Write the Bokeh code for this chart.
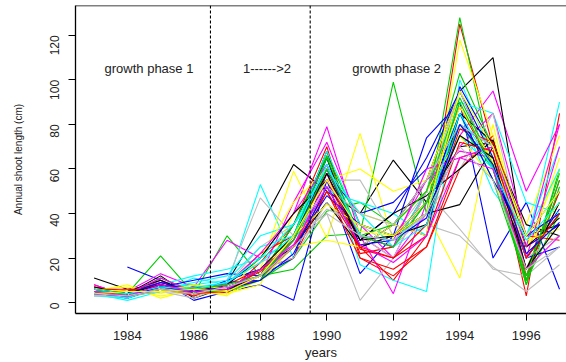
import math
from bokeh.plotting import figure
from bokeh.models import Span, Label, FixedTicker, LinearAxis
from bokeh.embed import file_html
from bokeh.resources import INLINE

nan = float("nan")

years = list(range(1983, 1998))
x_ticks = [1984, 1986, 1988, 1990, 1992, 1994, 1996]
y_ticks = [0, 20, 40, 60, 80, 100, 120]
palette = ["#000000", "#FF0000", "#00CD00", "#0000FF", "#00FFFF", "#FF00FF", "#FFFF00", "#BEBEBE"]
phase_breaks = [1986.5, 1989.5]

s00 = [11, 6, 8, 3, 9, 34, 62, 50, 40, 64, 45, 70, 72, 30, 35]
s01 = [8, 3, 6, 5, 7, 12, 25, 55, 25, 10, 30, 125, 70, 3, 85]
s02 = [6, 4, 21, 4, 30, 12, 15, 30, 31, 99, 40, 128, 60, 8, 60]
s03 = [nan, 16, 10, 1, 5, 8, 1, 55, 13, 30, 74, 90, 20, 45, 6]
s04 = [4, 1, 5, 11, 8, 53, 20, 65, 17, 10, 5, 100, 65, 25, 90]
s05 = [7, 5, 13, 7, 28, 20, 40, 79, 30, 4, 45, 75, 95, 50, 80]
s06 = [5, 8, 2, 6, 3, 15, 59, 29, 76, 28, 40, 11, 80, 20, 65]
s07 = [4, 2, 6, 3, 10, 47, 30, 40, 1, 20, 35, 30, 16, 5, 17]
s08 = [6, 4, 12, 2, 7, 10, 30, 68, 25, 35, 55, 95, 110, 20, 40]
s09 = [7, 5, 6, 8, 4, 18, 35, 70, 20, 12, 25, 60, 75, 10, 55]
s10 = [5, 2, 11, 5, 9, 10, 20, 41, 45, 35, 50, 103, 70, 15, 50]
s11 = [6, 2, 7, 10, 13, 12, 20, 58, 40, 45, 60, 95, 60, 20, 42]
s12 = [3, 2, 8, 12, 15, 20, 28, 50, 45, 40, 30, 85, 50, 30, 70]
s13 = [8, 3, 10, 4, 6, 12, 45, 72, 35, 20, 50, 80, 70, 25, 35]
s14 = [4, 6, 3, 5, 4, 8, 40, 55, 60, 50, 55, 95, 65, 35, 75]
s15 = [3, 4, 5, 2, 8, 25, 35, 55, 55, 30, 50, 33, 15, 12, 25]
s16 = [5, 4, 9, 6, 5, 15, 25, 45, 25, 30, 40, 44, 70, 35, 30]
s17 = [6, 4, 7, 3, 8, 22, 30, 62, 22, 25, 50, 88, 60, 15, 45]
s18 = [4, 3, 5, 7, 6, 10, 25, 60, 30, 25, 45, 85, 55, 10, 58]
s19 = [5, 3, 8, 4, 10, 15, 30, 65, 25, 35, 30, 97, 70, 25, 35]
s20 = [6, 3, 6, 9, 12, 30, 35, 55, 30, 25, 50, 90, 85, 45, 40]
s21 = [5, 2, 9, 6, 7, 10, 28, 60, 30, 20, 40, 70, 85, 30, 50]
s22 = [6, 7, 4, 8, 5, 20, 45, 60, 40, 35, 30, 118, 75, 25, 60]
s23 = [4, 3, 7, 5, 9, 18, 25, 42, 35, 25, 40, 60, 85, 20, 30]
s24 = [5, 5, 10, 4, 6, 12, 35, 65, 25, 30, 35, 85, 72, 15, 45]
s25 = [6, 6, 5, 7, 8, 15, 20, 50, 20, 15, 25, 65, 70, 12, 50]
s26 = [5, 3, 6, 5, 7, 12, 35, 66, 35, 30, 45, 80, 60, 10, 40]
s27 = [4, 4, 8, 6, 9, 10, 30, 60, 28, 40, 65, 95, 65, 20, 25]
s28 = [5, 2, 7, 8, 10, 25, 30, 68, 35, 30, 40, 75, 60, 30, 60]
s29 = [6, 4, 11, 5, 8, 22, 40, 62, 30, 28, 55, 68, 65, 20, 70]
s30 = [5, 5, 6, 4, 4, 10, 25, 28, 25, 35, 50, 75, 55, 25, 45]
s31 = [3, 3, 5, 4, 6, 15, 20, 45, 30, 20, 50, 95, 60, 30, 40]
s32 = [7, 4, 7, 5, 8, 20, 40, 55, 28, 40, 48, 60, 73, 25, 38]
s33 = [5, 5, 8, 6, 6, 14, 28, 58, 24, 20, 35, 78, 72, 30, 28]
s34 = [4, 3, 6, 5, 5, 10, 30, 65, 30, 35, 50, 92, 62, 8, 52]
s35 = [5, 4, 9, 5, 7, 12, 25, 48, 35, 30, 45, 85, 55, 30, 40]
s36 = [6, 3, 6, 7, 9, 20, 35, 60, 40, 25, 35, 80, 70, 30, 50]
s37 = [4, 3, 8, 4, 7, 12, 25, 55, 30, 25, 60, 65, 70, 25, 80]
s38 = [6, 5, 5, 8, 6, 15, 30, 44, 35, 30, 45, 88, 63, 28, 33]
s39 = [5, 4, 6, 6, 8, 12, 30, 52, 40, 35, 55, 80, 70, 20, 30]
s40 = [6, 4, 8, 5, 6, 15, 30, 58, 28, 30, 40, 75, 65, 15, 35]
s41 = [5, 3, 6, 4, 5, 12, 25, 50, 25, 20, 30, 72, 68, 20, 40]
s42 = [5, 4, 7, 6, 8, 12, 28, 60, 30, 25, 45, 90, 60, 12, 55]
s43 = [4, 3, 7, 5, 6, 10, 22, 52, 26, 28, 38, 80, 62, 22, 36]
s44 = [6, 4, 7, 6, 9, 18, 30, 62, 30, 28, 40, 85, 60, 28, 45]
s45 = [5, 3, 8, 5, 6, 15, 26, 52, 26, 18, 30, 65, 60, 15, 30]
s46 = [4, 5, 5, 6, 5, 12, 30, 55, 32, 30, 40, 95, 70, 30, 50]
s47 = [4, 3, 6, 4, 7, 12, 25, 40, 30, 28, 40, 70, 55, 15, 25]

series = [s00, s01, s02, s03, s04, s05, s06, s07, s08, s09, s10, s11,
          s12, s13, s14, s15, s16, s17, s18, s19, s20, s21, s22, s23,
          s24, s25, s26, s27, s28, s29, s30, s31, s32, s33, s34, s35,
          s36, s37, s38, s39, s40, s41, s42, s43, s44, s45, s46, s47]

FONT = "Liberation Sans"

p = figure(width=566, height=362, output_backend="svg", toolbar_location=None,
           x_range=(1982.44, 1997.21), y_range=(-4.9, 133.4),
           min_border_left=75, min_border_right=0, min_border_top=5,
           min_border_bottom=0)
p.background_fill_color = "white"
p.border_fill_color = "white"
p.grid.visible = False
p.outline_line_color = None

for i, s in enumerate(series):
    p.line(years, s, line_color=palette[i % 8], line_width=1.1)

for b in phase_breaks:
    p.add_layout(Span(location=b, dimension="height", line_color="black",
                      line_dash="3 2", line_width=1.1))
p.add_layout(Span(location=133.4, dimension="width", line_color="black", line_width=1.3))

p.xaxis.ticker = FixedTicker(ticks=x_ticks)
p.yaxis.ticker = FixedTicker(ticks=y_ticks)
for ax in (p.xaxis, p.yaxis):
    ax.axis_line_color = "black"
    ax.axis_line_width = 1.3
    ax.major_tick_in = 0
    ax.major_tick_out = 7
    ax.minor_tick_line_color = None
    ax.major_tick_line_color = "black"
    ax.major_label_text_font = FONT
    ax.major_label_text_color = "#222222"
    ax.axis_label_text_font = FONT
    ax.axis_label_text_font_style = "normal"
    ax.axis_label_text_color = "#222222"

p.xaxis.major_label_text_font_size = "13px"
p.xaxis.major_label_standoff = 10

# second, bare axis below that carries only the x title
title_axis = LinearAxis(ticker=FixedTicker(ticks=[]), axis_label="years",
                        axis_line_color=None, major_tick_line_color=None,
                        minor_tick_line_color=None, major_tick_out=0, major_tick_in=0,
                        major_label_text_font_size="0px", major_label_standoff=0,
                        axis_label_standoff=2, axis_label_text_font=FONT,
                        axis_label_text_font_size="13px", axis_label_text_font_style="normal",
                        axis_label_text_color="#222222")
p.add_layout(title_axis, "below")

p.yaxis.major_label_text_font_size = "12px"
p.yaxis.major_label_orientation = math.pi / 2
p.yaxis.major_label_standoff = 14
p.yaxis.axis_label = "Annual shoot length (cm)"
p.yaxis.axis_label_text_font_size = "10px"
p.yaxis.axis_label_standoff = 19

for x, txt in [(1984.65, "growth phase 1"), (1988.2, "1------>2"), (1992.1, "growth phase 2")]:
    p.add_layout(Label(x=x, y=105, text=txt, text_align="center", text_baseline="middle",
                       text_font=FONT, text_font_size="13px", text_color="#222222"))

open("out.html", "w").write(file_html(p, INLINE))
